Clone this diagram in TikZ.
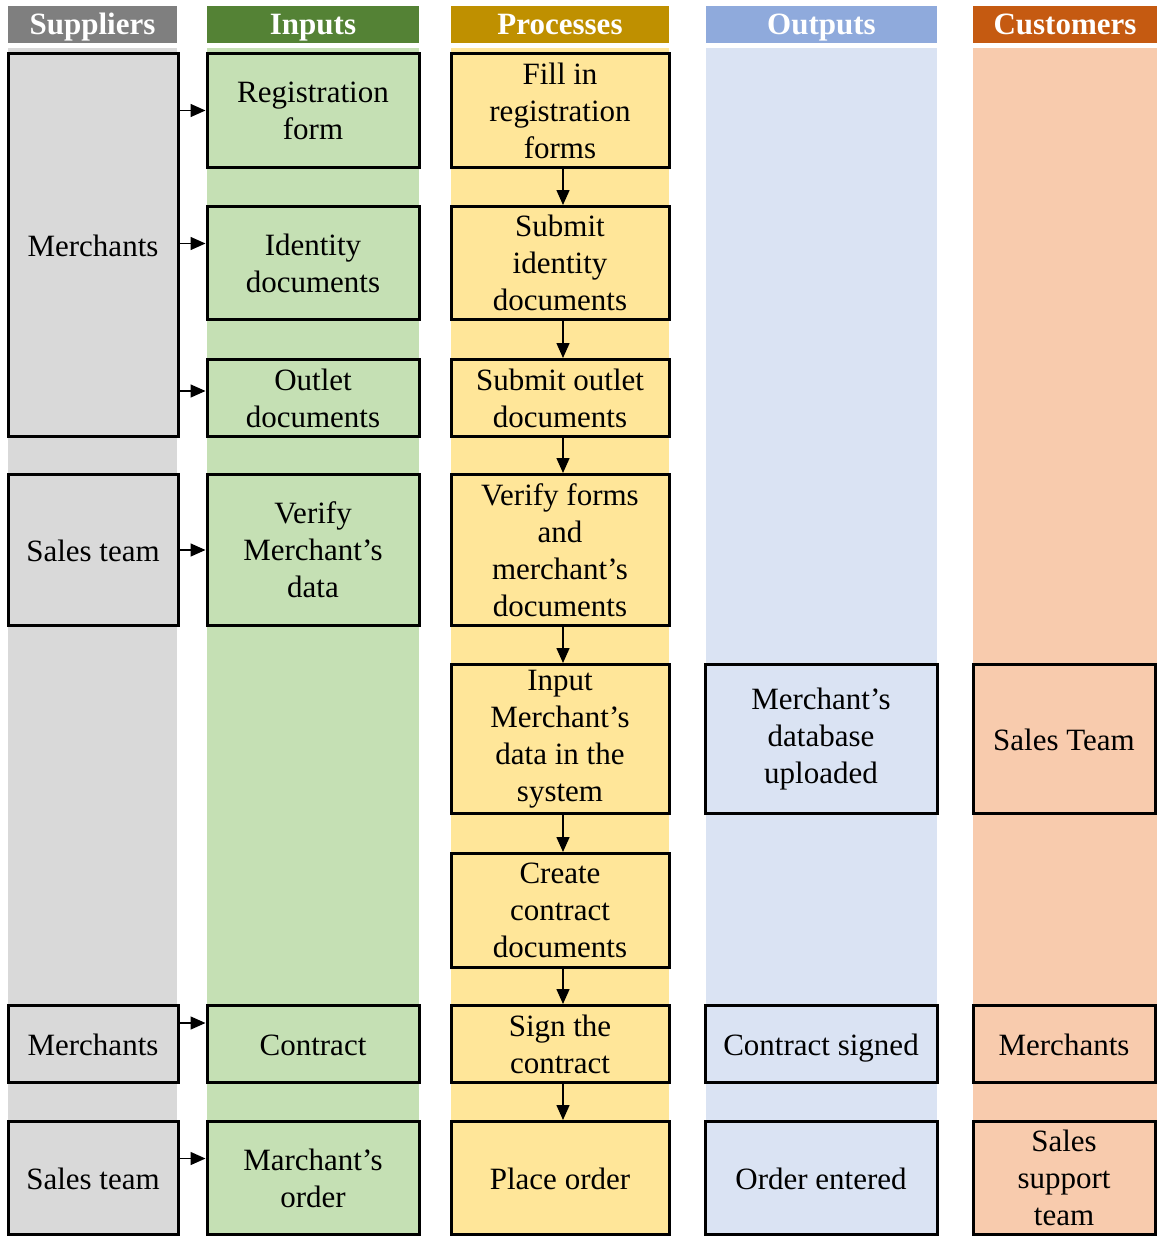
\documentclass[tikz,border=0pt]{standalone}
\usepackage{fontspec}
\setmainfont{Liberation Serif}
\usetikzlibrary{arrows.meta,calc}
\definecolor{supH}{HTML}{7F7F7F}\definecolor{supB}{HTML}{D9D9D9}
\definecolor{inH}{HTML}{548235}\definecolor{inB}{HTML}{C5E0B4}
\definecolor{prH}{HTML}{BF9000}\definecolor{prB}{HTML}{FFE699}
\definecolor{ouH}{HTML}{8FAADC}\definecolor{ouB}{HTML}{DAE3F3}
\definecolor{cuH}{HTML}{C55A11}\definecolor{cuB}{HTML}{F8CBAD}
\newcommand\bodyfont{\fontsize{31}{37}\selectfont}
\newcommand\mybox[8][]{\node[boxstyle,#1,fill=#7,minimum width={(#5-#3)*1pt},minimum height={(#6-#4)*1pt}] (#2) at ({(#3+#5)/2},{(#4+#6)/2+1.5}) {#8};}
\newcommand\mylane[7]{%
  \fill[#6] (#2,48) rectangle (#3,1236);
  \fill[#5] (#2,6) rectangle (#3,43);
  \node[headstyle,anchor=base] (#1) at ({(#2+#3)/2},35) {#7};}
\tikzset{
  boxstyle/.style={draw=black,line width=3pt,inner sep=0pt,align=center,font=\bodyfont,text=black},
  oneline/.style={text height=26pt,text depth=3pt},
  headstyle/.style={inner sep=0pt,font=\bodyfont\bfseries,text=white},
  arr/.style={line width=1.5pt,-{Triangle[length=15pt,width=13pt]}}
}
\begin{document}
\begin{tikzpicture}[x=1pt,y=-1pt]
\useasboundingbox (0,0) rectangle (1157,1236);
\mylane{hs}{8}{177}{}{supH}{supB}{Suppliers}
\mylane{hi}{207}{419}{}{inH}{inB}{Inputs}
\mylane{hp}{451}{669}{}{prH}{prB}{Processes}
\mylane{ho}{706}{937}{}{ouH}{ouB}{Outputs}
\mylane{hc}{973}{1157}{}{cuH}{cuB}{Customers}
% suppliers
\mybox[oneline]{s1}{8}{52}{178}{435}{supB}{Merchants}
\mybox[oneline]{s2}{8}{473}{178}{624}{supB}{Sales team}
\mybox[oneline]{s3}{8}{1004}{178}{1081}{supB}{Merchants}
\mybox[oneline]{s4}{8}{1120}{178}{1233}{supB}{Sales team}
% inputs
\mybox{i1}{207}{52}{419}{166}{inB}{Registration\\form}
\mybox{i2}{207}{205}{419}{318}{inB}{Identity\\documents}
\mybox{i3}{207}{358}{419}{435}{inB}{Outlet\\documents}
\mybox{i4}{207}{473}{419}{624}{inB}{Verify\\Merchant’s\\data}
\mybox[oneline]{i5}{207}{1004}{419}{1081}{inB}{Contract}
\mybox{i6}{207}{1120}{419}{1233}{inB}{Marchant’s\\order}
% processes
\mybox{p1}{451}{52}{669}{166}{prB}{Fill in\\registration\\forms}
\mybox{p2}{451}{205}{669}{318}{prB}{Submit\\identity\\documents}
\mybox{p3}{451}{358}{669}{435}{prB}{Submit outlet\\documents}
\mybox{p4}{451}{473}{669}{624}{prB}{Verify forms\\and\\merchant’s\\documents}
\mybox{p5}{451}{663}{669}{812}{prB}{Input\\Merchant’s\\data in the\\system}
\mybox{p6}{451}{852}{669}{966}{prB}{Create\\contract\\documents}
\mybox{p7}{451}{1004}{669}{1081}{prB}{Sign the\\contract}
\mybox[oneline]{p8}{451}{1120}{669}{1233}{prB}{Place order}
% outputs
\mybox{o1}{705}{663}{937}{812}{ouB}{Merchant’s\\database\\uploaded}
\mybox[oneline]{o2}{705}{1004}{937}{1081}{ouB}{Contract signed}
\mybox[oneline]{o3}{705}{1120}{937}{1233}{ouB}{Order entered}
% customers
\mybox[oneline]{c1}{973}{663}{1155}{812}{cuB}{Sales Team}
\mybox[oneline]{c2}{973}{1004}{1155}{1081}{cuB}{Merchants}
\mybox{c3}{973}{1120}{1155}{1233}{cuB}{Sales\\support\\team}
% supplier -> input arrows
\coordinate (a1) at (i1.west);
\coordinate (a2) at ([yshift=19.5pt]i2.west);
\coordinate (a3) at ([yshift=7pt]i3.west);
\coordinate (a4) at (i4.west);
\coordinate (a5) at ([yshift=21pt]i5.west);
\coordinate (a6) at ([yshift=19.5pt]i6.west);
\draw[arr] (s1.east |- a1) -- (a1);
\draw[arr] (s1.east |- a2) -- (a2);
\draw[arr] (s1.east |- a3) -- (a3);
\draw[arr] (s2.east |- a4) -- (a4);
\draw[arr] (s3.east |- a5) -- (a5);
\draw[arr] (s4.east |- a6) -- (a6);
% process chain
\foreach \a/\b in {p1/p2,p2/p3,p3/p4,p4/p5,p5/p6,p6/p7,p7/p8}
  \draw[arr] ([xshift=3pt]\a.south) -- ([xshift=3pt]\b.north);
\end{tikzpicture}
\end{document}
